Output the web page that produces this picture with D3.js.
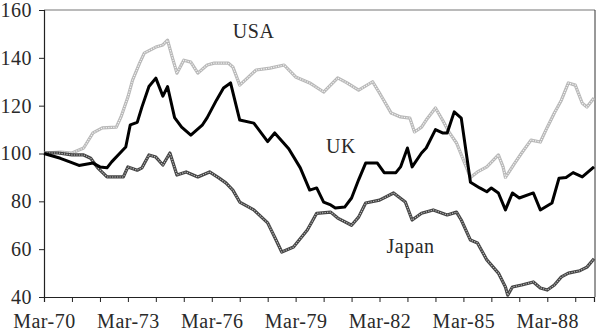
<!DOCTYPE html>
<html>
<head>
<meta charset="utf-8">
<script src="https://cdn.jsdelivr.net/npm/d3@7"></script>
<style>
  html, body { margin: 0; padding: 0; background: #fff; }
  svg { display: block; }
  svg text { font-family: "Liberation Serif", "Times New Roman", serif !important; fill: #2a2a2a; letter-spacing: 0.5px; }
</style>
</head>
<body>
<svg id="chart" width="600" height="331"></svg>
<script>
// ---- data (index values) ----
const usaDates = ["1970-03","1970-10","1971-03","1971-08","1971-12","1972-04","1972-10","1972-12","1973-03","1973-05","1973-08","1973-10","1974-03","1974-06","1974-08","1974-10","1974-12","1975-03","1975-06","1975-09","1976-01","1976-04","1976-10","1976-12","1977-03","1977-10","1978-04","1978-10","1979-03","1979-09","1980-03","1980-09","1981-01","1981-06","1981-12","1982-03","1982-08","1982-12","1983-04","1983-06","1983-09","1983-11","1984-03","1984-06","1984-09","1984-12","1985-03","1985-06","1985-09","1986-01","1986-06","1986-08","1986-09","1987-01","1987-04","1987-08","1987-12","1988-03","1988-06","1988-09","1988-12","1989-03","1989-06","1989-08","1989-11"];
const usaValues = [100.2,100.6,100.2,102.3,108.6,110.7,111,115.3,123.6,130.7,137.8,142,144.5,145.4,147.4,140.3,133.6,139,138.2,133.6,137,137.8,137.8,136.2,128.6,134.9,135.7,137,132,129.5,125.7,131.6,129.5,126.5,130,125.3,116.9,115.3,114.8,109,111,114,119,114,108.6,104.4,97.3,90,92.3,94.4,99.4,94.4,90,96,100.2,105.6,104.8,111,116.9,122.3,129.5,128.6,121,119.4,123.2];

const ukDates = ["1970-03","1970-10","1971-02","1971-06","1971-12","1972-03","1972-06","1972-08","1972-12","1973-02","1973-04","1973-07","1973-09","1973-12","1974-03","1974-06","1974-08","1974-11","1975-02","1975-06","1975-11","1976-01","1976-05","1976-08","1976-11","1977-03","1977-09","1978-03","1978-06","1978-12","1979-05","1979-09","1979-12","1980-03","1980-06","1980-08","1980-12","1981-03","1981-06","1981-09","1982-02","1982-05","1982-10","1982-12","1983-03","1983-05","1983-09","1983-11","1984-03","1984-06","1984-08","1984-11","1985-02","1985-06","1985-10","1986-01","1986-03","1986-06","1986-09","1986-12","1987-03","1987-09","1987-12","1988-05","1988-08","1988-11","1989-02","1989-06","1989-11"];
const ukValues = [100,98,96.5,95,96,94.4,94,96.5,100.6,102.7,112,113,119.5,128,131.5,124,128,115,111,107.7,112,115,122.3,127.4,129.5,114,112.7,105,108.6,102,94,84.7,85.6,79.7,78.5,77.2,77.6,81.4,89,96,96,92,92,94.4,102.3,94.4,100.2,102.3,110,108.6,108.6,117.4,114.8,88,85.6,84,85.6,83.5,76.4,83.5,81.4,83.5,76.4,79.3,89.7,90,92,90.2,94.4];

const japanDates = ["1970-03","1970-09","1971-03","1971-08","1971-11","1972-02","1972-06","1973-01","1973-03","1973-07","1973-09","1973-12","1974-03","1974-06","1974-09","1974-12","1975-04","1975-09","1976-02","1976-06","1976-09","1976-12","1977-03","1977-09","1978-03","1978-06","1978-09","1979-02","1979-08","1979-12","1980-06","1980-09","1981-03","1981-06","1981-09","1982-03","1982-09","1983-02","1983-05","1983-09","1984-02","1984-08","1984-12","1985-02","1985-06","1985-09","1986-01","1986-06","1986-09","1986-10","1986-12","1987-04","1987-09","1987-12","1988-03","1988-06","1988-09","1988-12","1989-05","1989-08","1989-11"];
const japanValues = [100.2,100.2,99.4,99.4,98,94,90.2,90.2,94.4,93,94,99.4,98.5,95.2,100.2,91,92.3,90.2,92.3,89.8,87.7,84.7,79.7,76.4,71,65,58.8,60.9,68,75,75.5,73,70,73.4,79.3,80.5,83.5,79.7,72.2,75,76.4,74.3,75.5,72.2,63.8,62.6,55.5,50,44.2,40.8,44.2,45,46.3,43.8,42.9,45,48.4,50,51,52.5,56];

const yTicks = [40, 60, 80, 100, 120, 140, 160];
const xTickYears = [1970,1971,1972,1973,1974,1975,1976,1977,1978,1979,1980,1981,1982,1983,1984,1985,1986,1987,1988,1989];
const xTickLabels = {1970:"Mar-70",1973:"Mar-73",1976:"Mar-76",1979:"Mar-79",1982:"Mar-82",1985:"Mar-85",1988:"Mar-88"};
const seriesLabels = [
  {name: "USA",   date: "1976-12", value: 148.3},
  {name: "UK",    date: "1980-04", value: 100.2},
  {name: "Japan", date: "1982-06", value: 58.4}
];

// ---- chart ----
const parse = d3.timeParse("%Y-%m");
const svg = d3.select("#chart");
const mLeft = 44, mRight = 594, mTop = 10, mBottom = 297;

const x = d3.scaleTime()
  .domain([parse("1970-03"), parse("1989-11")])
  .range([mLeft, mRight]);
const y = d3.scaleLinear().domain([40, 160]).range([mBottom, mTop]);

// frame (top and right)
svg.append("line").attr("x1", mLeft).attr("x2", mRight + 1).attr("y1", mTop).attr("y2", mTop)
  .attr("stroke", "#777").attr("stroke-width", 1.2);
svg.append("line").attr("x1", mRight + 1).attr("x2", mRight + 1).attr("y1", mTop).attr("y2", mBottom)
  .attr("stroke", "#333").attr("stroke-width", 1);

// axes
const yAxis = d3.axisLeft(y).tickValues(yTicks).tickSize(5).tickPadding(7).tickFormat(d3.format("d"));
const gy = svg.append("g").attr("transform", `translate(${mLeft},0)`).call(yAxis);

const xAxis = d3.axisBottom(x)
  .tickValues(xTickYears.map(yr => new Date(yr, 2, 1)))
  .tickSize(5).tickPadding(12)
  .tickFormat(d => xTickLabels[d.getFullYear()] || "");
const gx = svg.append("g").attr("transform", `translate(0,${mBottom})`).call(xAxis);

[gx, gy].forEach(g => {
  g.attr("font-family", null).attr("font-size", null);
  g.select(".domain").attr("stroke", "#222").attr("stroke-width", 1.2);
  g.selectAll(".tick line").attr("stroke", "#222").attr("stroke-width", 1);
  g.selectAll(".tick text")
    .style("font-family", "'Liberation Serif', serif")
    .style("font-size", "20px");
});

const line = d3.line().x(d => x(d[0])).y(d => y(d[1]));
const mk = (dates, vals) => dates.map((dd, i) => [parse(dd), vals[i]]);
const usa = mk(usaDates, usaValues);
const uk = mk(ukDates, ukValues);
const japan = mk(japanDates, japanValues);

// USA: light grey dotted
svg.append("path").datum(usa).attr("d", line).attr("fill", "none")
  .attr("stroke", "#b8b8b8").attr("stroke-width", 3.2).attr("stroke-linejoin", "round");
svg.append("path").datum(usa).attr("d", line).attr("fill", "none")
  .attr("stroke", "#f4f4f4").attr("stroke-width", 1.2).attr("stroke-dasharray", "1.2,1.3");

// Japan: dark grey dotted
svg.append("path").datum(japan).attr("d", line).attr("fill", "none")
  .attr("stroke", "#444").attr("stroke-width", 3.2).attr("stroke-linejoin", "round");
svg.append("path").datum(japan).attr("d", line).attr("fill", "none")
  .attr("stroke", "#c4c4c4").attr("stroke-width", 1.1).attr("stroke-dasharray", "1.2,1.3");

// UK: solid black
svg.append("path").datum(uk).attr("d", line).attr("fill", "none")
  .attr("stroke", "#000").attr("stroke-width", 3).attr("stroke-linejoin", "round");

// series labels
svg.selectAll("text.series").data(seriesLabels).enter().append("text")
  .attr("class", "series")
  .attr("x", d => x(parse(d.date)))
  .attr("y", d => y(d.value))
  .style("font-size", "20px")
  .text(d => d.name);
</script>
</body>
</html>
